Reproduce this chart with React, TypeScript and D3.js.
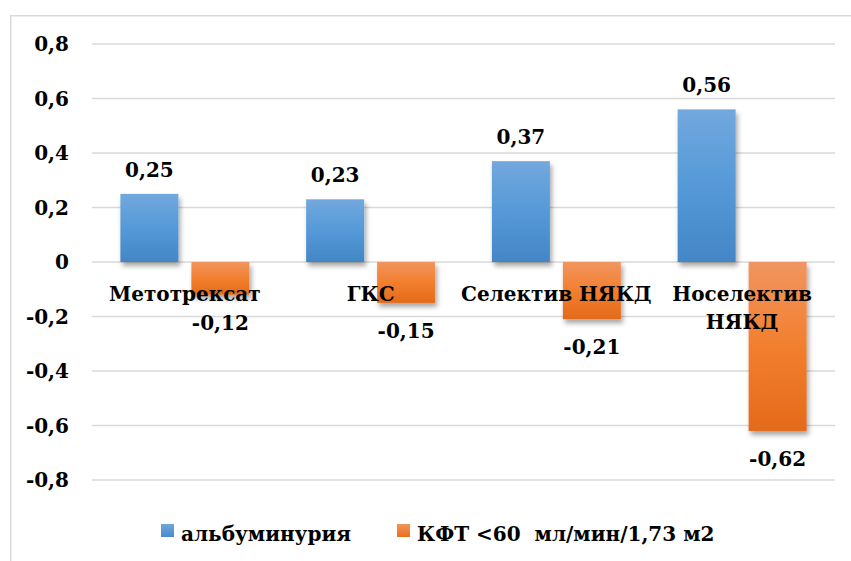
import React from "react";
import * as d3 from "d3";

const categories: string[][] = [["Метотрексат"], ["ГКС"], ["Селектив НЯКД"], ["Носелектив", "НЯКД"]];
const seriesNames = ["альбуминурия", "КФТ <60  мл/мин/1,73 м2"];
const albuminuria = [0.25, 0.23, 0.37, 0.56];
const gfr = [-0.12, -0.15, -0.21, -0.62];
const yTicks = [-0.8, -0.6, -0.4, -0.2, 0, 0.2, 0.4, 0.6, 0.8];

const W = 851;
const H = 561;
const FONT = "'DejaVu Serif', serif";
const FS = 20;

export default function App() {
  const x0 = d3.scaleBand<number>().domain(d3.range(categories.length)).range([92, 835]).padding(0);
  const x1 = d3
    .scaleBand<number>()
    .domain([0, 1])
    .range([0, x0.bandwidth()])
    .paddingInner(0.183)
    .paddingOuter(0.4);
  const y = d3.scaleLinear().domain([-0.8, 0.8]).range([480, 44]);
  const fmt = (v: number) => {
    const s = Math.abs(v) < 1e-9 ? "0" : d3.format(".1f")(v).replace(".", ",");
    return s.replace("−", "-");
  };
  const fmtVal = (v: number) => d3.format(".2f")(v).replace(".", ",").replace("−", "-");
  const series = [albuminuria, gfr];
  const fills = ["url(#gBlue)", "url(#gOrange)"];

  return (
    <svg width={W} height={H} style={{ position: "absolute", left: 0, top: 0, background: "#fff" }} fontFamily={FONT}>
      <defs>
        <linearGradient id="gBlue" x1="0" y1="0" x2="0" y2="1">
          <stop offset="0" stopColor="#72a8dd" />
          <stop offset="0.5" stopColor="#5599d8" />
          <stop offset="1" stopColor="#4386c6" />
        </linearGradient>
        <linearGradient id="gOrange" x1="0" y1="0" x2="0" y2="1">
          <stop offset="0" stopColor="#f19560" />
          <stop offset="0.5" stopColor="#f27f2e" />
          <stop offset="1" stopColor="#e36a1a" />
        </linearGradient>
        <linearGradient id="lBlue" x1="0" y1="0" x2="0" y2="1">
          <stop offset="0" stopColor="#6fa6dc" />
          <stop offset="1" stopColor="#4a8bcc" />
        </linearGradient>
        <linearGradient id="lOrange" x1="0" y1="0" x2="0" y2="1">
          <stop offset="0" stopColor="#f29458" />
          <stop offset="1" stopColor="#e8701f" />
        </linearGradient>
        <filter id="shadow" x="-20%" y="-20%" width="150%" height="150%">
          <feDropShadow dx="2" dy="4" stdDeviation="2.5" floodColor="#000" floodOpacity="0.35" />
        </filter>
      </defs>
      <rect x={10.75} y={15.75} width={900} height={700} fill="none" stroke="#d9d9d9" strokeWidth={1.5} />
      {yTicks.map((t) => (
        <g key={t}>
          <line x1={92} x2={835} y1={y(t)} y2={y(t)} stroke="#d9d9d9" strokeWidth={1.5} />
          <text x={69} y={y(t)} dy="0.36em" textAnchor="end" fontSize={FS} fontWeight="bold" fill="#000">
            {fmt(t)}
          </text>
        </g>
      ))}
      {series.map((vals, si) =>
        vals.map((v, ci) => {
          const bx = (x0(ci) as number) + (x1(si) as number);
          const top = y(Math.max(0, v));
          const h = Math.abs(y(v) - y(0));
          return (
            <rect
              key={`${si}-${ci}`}
              x={bx}
              y={top}
              width={x1.bandwidth()}
              height={h}
              fill={fills[si]}
              filter="url(#shadow)"
            />
          );
        })
      )}
      {categories.map((lines, ci) => (
        <text
          key={ci}
          x={(x0(ci) as number) + x0.bandwidth() / 2}
          y={301}
          textAnchor="middle"
          fontSize={FS}
          fontWeight="bold"
          fill="#000"
        >
          {lines.map((l, li) => (
            <tspan key={li} x={(x0(ci) as number) + x0.bandwidth() / 2} dy={li === 0 ? 0 : 28}>
              {l}
            </tspan>
          ))}
        </text>
      ))}
      {series.map((vals, si) =>
        vals.map((v, ci) => {
          const cx = (x0(ci) as number) + (x1(si) as number) + x1.bandwidth() / 2;
          const ly = v >= 0 ? y(v) - 17 : y(v) + 35;
          return (
            <text key={`l${si}-${ci}`} x={cx} y={ly} textAnchor="middle" fontSize={FS} fontWeight="bold" fill="#000">
              {fmtVal(v)}
            </text>
          );
        })
      )}
      {seriesNames.map((n, i) => {
        const lx = [161, 397][i];
        return (
          <g key={n}>
            <rect x={lx} y={524} width={13} height={13} fill={i === 0 ? "url(#lBlue)" : "url(#lOrange)"} />
            <text x={lx + 20} y={541} fontSize={FS} fontWeight="bold" fill="#000" style={{ whiteSpace: "pre" }}>
              {n}
            </text>
          </g>
        );
      })}
    </svg>
  );
}
